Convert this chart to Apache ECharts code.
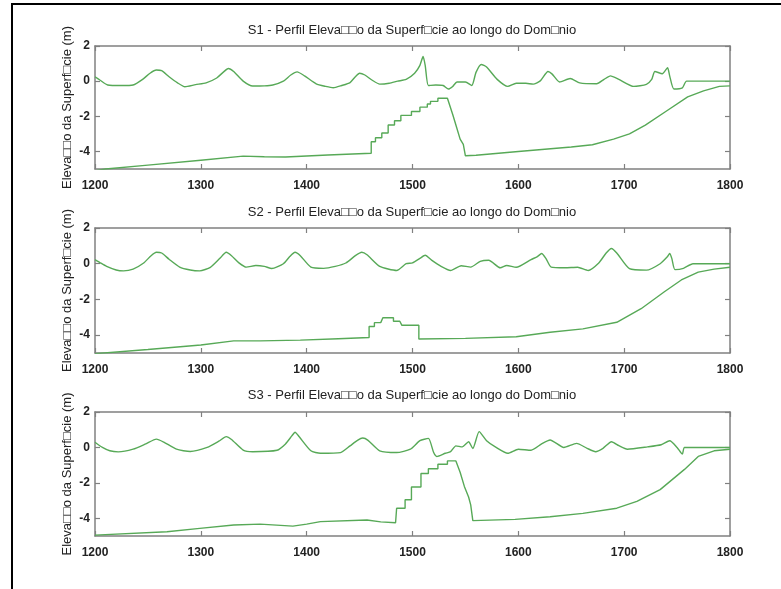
<!DOCTYPE html>
<html>
<head>
<meta charset="utf-8">
<script src="https://cdn.jsdelivr.net/npm/echarts@6/dist/echarts.min.js"></script>
<style>html,body{margin:0;padding:0;background:#fff}#c{width:781px;height:589px}</style>
</head>
<body>
<div id="c"></div>
<script>
// ---- Data (x = domain position, y = elevation in m) ----
const xTicks = [1200, 1300, 1400, 1500, 1600, 1700, 1800];
const yTicks = [-4, -2, 0, 2];
const panelTitles = [
  "S1 - Perfil Eleva\u25A1\u25A1o da Superf\u25A1cie ao longo do Dom\u25A1nio",
  "S2 - Perfil Eleva\u25A1\u25A1o da Superf\u25A1cie ao longo do Dom\u25A1nio",
  "S3 - Perfil Eleva\u25A1\u25A1o da Superf\u25A1cie ao longo do Dom\u25A1nio"
];
const yAxisTitle = "Eleva\u25A1\u25A1o da Superf\u25A1cie (m)";

const s1Surface = [[1200,0.25],[1205,0.05],[1212,-0.22],[1225,-0.25],[1236,-0.22],[1245,0.1],[1252,0.45],[1258,0.63],[1263,0.6],[1270,0.25],[1278,-0.1],[1285,-0.32],[1295,-0.2],[1305,-0.1],[1315,0.18],[1321,0.5],[1326,0.72],[1331,0.55],[1340,0.0],[1349,-0.28],[1360,-0.27],[1368,-0.22],[1378,0.0],[1385,0.35],[1391,0.53],[1398,0.3],[1409,-0.15],[1418,-0.3],[1425,-0.38],[1433,-0.25],[1441,-0.08],[1446,0.25],[1450,0.45],[1455,0.35],[1462,0.05],[1469,-0.17],[1478,-0.12],[1486,0.0],[1494,0.1],[1502,0.45],[1507,0.9],[1510,1.4],[1512,0.9],[1515,-0.25],[1522,-0.22],[1529,-0.25],[1534,-0.45],[1538,-0.3],[1542,-0.05],[1550,-0.05],[1556,-0.25],[1560,0.5],[1565,0.95],[1570,0.8],[1580,0.1],[1590,-0.3],[1598,-0.12],[1607,-0.12],[1614,-0.17],[1621,0.03],[1628,0.55],[1632,0.4],[1639,-0.05],[1649,0.15],[1658,-0.1],[1674,-0.15],[1681,0.1],[1687,0.3],[1695,0.1],[1709,-0.3],[1721,-0.18],[1726,0.1],[1729,0.55],[1736,0.42],[1741,0.76],[1743,0.3],[1747,-0.45],[1755,-0.38],[1759,0.0],[1800,0.0]];
const s1Bed = [[1200,-5.1],[1210,-5.0],[1250,-4.78],[1300,-4.5],[1340,-4.27],[1360,-4.3],[1380,-4.32],[1420,-4.2],[1461,-4.1],[1461,-3.45],[1465,-3.45],[1465,-3.22],[1471,-3.22],[1471,-2.95],[1477,-2.95],[1477,-2.5],[1483,-2.5],[1483,-2.25],[1489,-2.25],[1489,-1.95],[1499,-1.95],[1499,-1.73],[1507,-1.73],[1507,-1.48],[1514,-1.48],[1514,-1.3],[1517,-1.3],[1517,-1.15],[1524,-1.15],[1524,-0.97],[1533,-0.97],[1538,-1.9],[1541,-2.5],[1545,-3.3],[1548,-3.6],[1550,-4.25],[1560,-4.22],[1600,-4.0],[1650,-3.75],[1670,-3.62],[1690,-3.3],[1705,-3.0],[1720,-2.5],[1740,-1.7],[1760,-0.9],[1775,-0.55],[1790,-0.3],[1800,-0.27]];

const s2Surface = [[1200,0.23],[1205,0.05],[1211,-0.15],[1220,-0.35],[1227,-0.4],[1236,-0.3],[1246,0.04],[1253,0.45],[1258,0.64],[1263,0.6],[1270,0.25],[1280,-0.19],[1290,-0.35],[1299,-0.4],[1309,-0.2],[1318,0.3],[1324,0.64],[1329,0.45],[1336,0.05],[1343,-0.19],[1352,-0.1],[1360,-0.15],[1367,-0.27],[1378,0.0],[1384,0.4],[1389,0.64],[1394,0.45],[1404,-0.19],[1416,-0.26],[1427,-0.15],[1437,0.04],[1446,0.45],[1452,0.64],[1457,0.5],[1469,-0.15],[1485,-0.38],[1494,0.0],[1500,0.05],[1507,0.3],[1512,0.47],[1518,0.2],[1527,-0.15],[1536,-0.38],[1546,-0.11],[1555,-0.19],[1564,0.13],[1572,0.19],[1583,-0.23],[1589,-0.1],[1598,-0.2],[1612,0.23],[1618,0.4],[1622,0.57],[1626,0.3],[1631,-0.19],[1644,-0.23],[1656,-0.2],[1666,-0.38],[1676,0.04],[1683,0.6],[1688,0.85],[1693,0.6],[1705,-0.28],[1721,-0.36],[1734,0.0],[1741,0.4],[1743,0.57],[1745,0.3],[1748,-0.33],[1756,-0.26],[1765,0.0],[1800,0.0]];
const s2Bed = [[1200,-5.04],[1250,-4.8],[1300,-4.55],[1331,-4.32],[1356,-4.32],[1394,-4.28],[1430,-4.2],[1459,-4.13],[1459,-3.52],[1464,-3.52],[1464,-3.3],[1470,-3.3],[1472,-3.03],[1482,-3.03],[1482,-3.22],[1488,-3.22],[1490,-3.45],[1506,-3.45],[1506,-4.22],[1550,-4.18],[1598,-4.09],[1630,-3.84],[1661,-3.65],[1693,-3.28],[1716,-2.52],[1738,-1.57],[1754,-0.91],[1770,-0.47],[1785,-0.3],[1800,-0.2]];

const s3Surface = [[1200,0.29],[1207,0.0],[1214,-0.19],[1222,-0.25],[1236,-0.1],[1248,0.2],[1258,0.47],[1265,0.3],[1277,-0.1],[1290,-0.23],[1306,0.0],[1317,0.35],[1324,0.61],[1329,0.45],[1340,-0.15],[1349,-0.24],[1372,-0.16],[1380,0.2],[1386,0.65],[1389,0.86],[1393,0.6],[1404,-0.19],[1413,-0.33],[1432,-0.29],[1441,0.09],[1448,0.4],[1453,0.53],[1458,0.4],[1469,-0.19],[1485,-0.29],[1498,-0.1],[1507,0.38],[1515,0.51],[1520,-0.29],[1523,-0.51],[1531,-0.33],[1536,-0.24],[1541,0.09],[1547,0.03],[1553,0.32],[1557,-0.06],[1563,0.89],[1570,0.38],[1579,0.0],[1590,-0.33],[1600,-0.1],[1612,-0.16],[1622,0.2],[1630,0.42],[1643,0.0],[1655,0.23],[1665,-0.05],[1673,-0.24],[1680,-0.05],[1688,0.32],[1695,0.1],[1703,-0.1],[1722,0.03],[1735,0.15],[1743,0.38],[1750,0.0],[1755,-0.38],[1757,0.0],[1800,0.0]];
const s3Bed = [[1200,-4.95],[1268,-4.76],[1299,-4.57],[1331,-4.38],[1356,-4.33],[1387,-4.44],[1400,-4.33],[1413,-4.19],[1457,-4.1],[1470,-4.2],[1484,-4.25],[1485,-3.43],[1493,-3.43],[1493,-2.95],[1499,-2.95],[1499,-2.23],[1508,-2.23],[1508,-1.47],[1515,-1.47],[1515,-1.2],[1524,-1.2],[1524,-0.95],[1533,-0.95],[1533,-0.76],[1541,-0.76],[1545,-1.4],[1549,-2.2],[1553,-2.8],[1555,-3.24],[1557,-4.13],[1597,-4.06],[1630,-3.91],[1661,-3.72],[1693,-3.43],[1712,-3.05],[1734,-2.38],[1757,-1.24],[1770,-0.51],[1785,-0.19],[1800,-0.1]];

const panels = [[s1Surface, s1Bed], [s2Surface, s2Bed], [s3Surface, s3Bed]];

// ---- Layout ----
const gridTops = [46, 228, 412];
const gridHeights = [123, 125, 124];
const titleTops = [24, 206, 389];
const lineColor = '#57a957';
const axisColor = '#808080';
const font = '"Liberation Sans", Arial, sans-serif';

const grid = [], xAxis = [], yAxis = [], series = [], title = [];
panels.forEach((p, i) => {
  grid.push({ left: 95, right: 51, top: gridTops[i], height: gridHeights[i] });
  title.push({ text: panelTitles[i], left: 412, top: titleTops[i], textAlign: 'center', padding: 0,
    textStyle: { fontSize: 13, fontWeight: 'normal', color: '#222', fontFamily: font } });
  const xa = (pos, lbl) => ({
    type: 'value', gridIndex: i, position: pos, min: 1200, max: 1800, interval: 100,
    axisLine: { show: true, onZero: false, lineStyle: { color: axisColor, width: 1.5 } },
    axisTick: { show: true, inside: true, length: 5, lineStyle: { color: axisColor, width: 1.2 } },
    axisLabel: { show: lbl, margin: 11, color: '#222', fontSize: 12, fontWeight: 'bold', fontFamily: font,
      customValues: xTicks, formatter: v => String(v) },
    splitLine: { show: false }
  });
  xAxis.push(xa('bottom', true), xa('top', false));
  const ya = (pos, lbl) => ({
    type: 'value', gridIndex: i, position: pos, min: -5, max: 2,
    axisLine: { show: true, onZero: false, lineStyle: { color: axisColor, width: 1.5 } },
    axisTick: { show: true, inside: true, length: 5, lineStyle: { color: axisColor, width: 1.2 }, customValues: yTicks },
    axisLabel: { show: lbl, margin: 5, color: '#222', fontSize: 12, fontWeight: 'bold', fontFamily: font,
      customValues: yTicks, formatter: v => String(v) },
    splitLine: { show: false },
    name: lbl ? yAxisTitle : '', nameLocation: 'middle', nameGap: 21, nameMoveOverlap: false,
    nameTextStyle: { fontSize: 13, color: '#222', fontFamily: font }
  });
  yAxis.push(ya('left', true), ya('right', false));
  p.forEach((d, k) => {
    series.push({ type: 'line', xAxisIndex: 2 * i, yAxisIndex: 2 * i, data: d, showSymbol: false,
      smooth: k === 0 ? 0.2 : false,
      lineStyle: { color: lineColor, width: 1.4 }, itemStyle: { color: lineColor }, clip: true, silent: true });
  });
});

const chart = echarts.init(document.getElementById('c'), null, { renderer: 'canvas' });
chart.setOption({
  animation: false,
  backgroundColor: '#fff',
  title, grid, xAxis, yAxis, series,
  graphic: [
    { type: 'line', shape: { x1: 12, y1: 3, x2: 12, y2: 589 }, style: { stroke: '#000', lineWidth: 2 } },
    { type: 'line', shape: { x1: 11, y1: 4, x2: 781, y2: 4 }, style: { stroke: '#000', lineWidth: 2 } }
  ]
});
</script>
</body>
</html>
